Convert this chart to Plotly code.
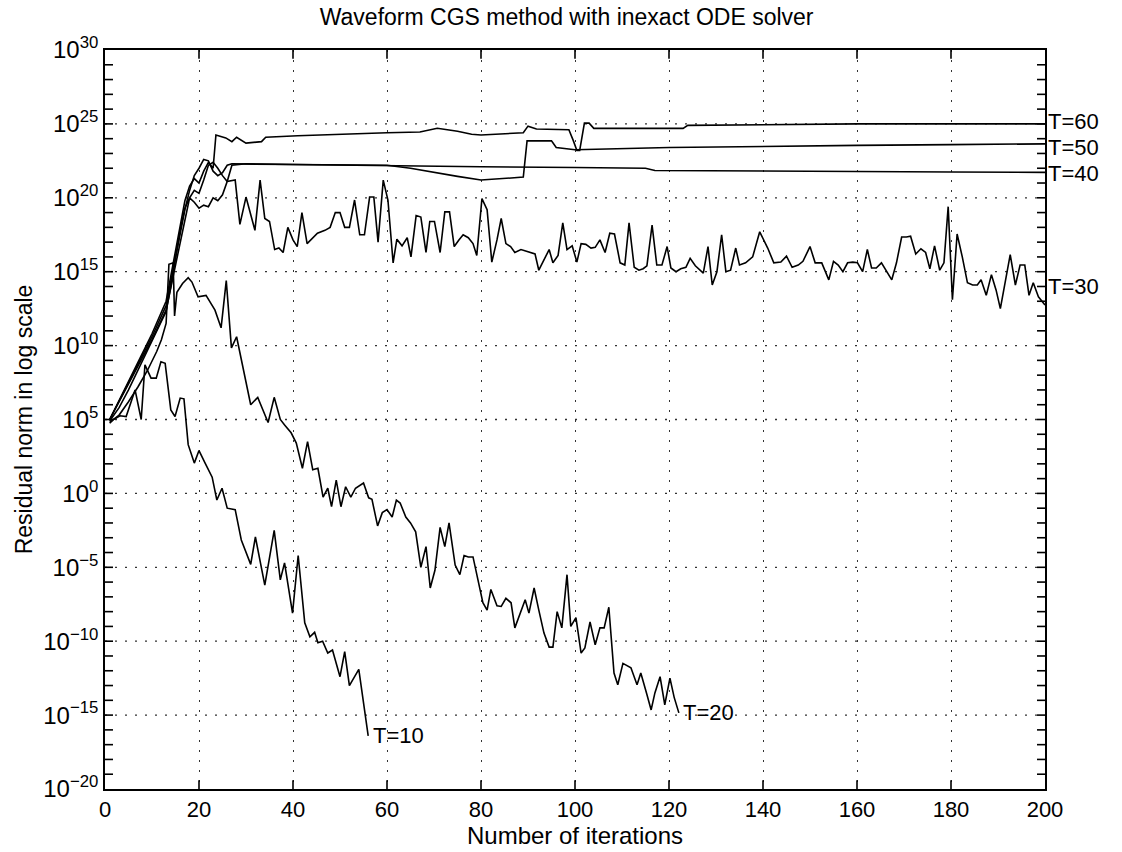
import plotly.graph_objects as go

# ---- data: iteration number and log10(residual norm) ----
t10_x = [1, 1.8, 3.2, 4.5, 6.4, 7.7, 8.5, 9.8, 10.9, 11.9, 12.8, 14, 14.9, 16, 16.8, 17.7, 19, 20, 21.3,
         22.8, 23.8, 24.9, 26, 27.7, 29, 31, 32, 34, 36, 37.3, 38.2, 39.9, 41.1, 42.5, 43.6, 44.6, 45.3,
         46.3, 47.4, 48.4, 50, 51, 52, 54, 56]
t10_y = [4.75, 5.0, 5.25, 5.2, 7.0, 5.0, 8.7, 7.8, 7.8, 8.9, 8.8, 5.65, 5.2, 6.45, 6.4, 3.3, 2.05, 2.9, 2.05,
         1.1, -0.45, 0.35, -1.0, -1.1, -3.15, -4.8, -2.95, -6.2, -2.5, -5.85, -4.7, -8.1, -4.2, -8.75, -9.7,
         -9.4, -10.1, -10.0, -10.8, -10.6, -12.4, -10.7, -13.0, -11.9, -16.4]

t20_x = [1, 3, 5, 7, 9, 11, 12, 13, 13.6, 14.5, 14.8, 15.3, 16.5, 17.7, 18.5, 19.8, 21.5, 23.4, 24.7, 25.8,
         26.9, 28, 29.5, 31, 32.5, 34.7, 36, 37.3, 38.3, 39.6, 40.7, 42, 43.1, 44.2, 45.3, 46.4, 47.4, 48.2,
         49.2, 50.2, 51.2, 52.3, 53.3, 55, 56.1, 56.8, 58, 59, 60, 61.1, 62, 62.8, 64, 65, 66.1, 67.2, 68.3,
         69.2, 70.2, 71.3, 72.3, 73.2, 74.5, 75.5, 76.4, 77.3, 78.3, 79.4, 80.4, 81.3, 82.1, 83.4, 84.3, 85.3,
         86.4, 87.2, 88.3, 89.4, 90.2, 91.3, 92.3, 93.4, 94.5, 95.3, 96.2, 97.2, 98.3, 99.1, 100.2, 101.3,
         102.1, 103.2, 104.3, 105.3, 106.2, 107.2, 108.3, 109.1, 110.2, 111.9, 113.2, 114, 115.3, 116.2, 117,
         118.1, 119.1, 120.2, 121.1, 122.1]
t20_y = [4.8, 5.3, 6.2, 7.2, 8.3, 9.6, 10.4, 11.5, 15.5, 15.6, 12.0, 13.6, 14.2, 14.6, 14.3, 13.3, 13.4, 12.4,
         11.2, 14.4, 9.85, 10.6, 8.3, 6.0, 6.5, 4.8, 6.5, 5.0, 4.6, 4.1, 3.4, 1.7, 3.5, 1.6, 1.7, -0.25, 0.35,
         -0.9, 0.9, -0.9, 0.45, -0.25, 0.35, 0.7, -0.3, -0.4, -2.2, -1.3, -1.1, -1.6, -0.45, -0.65, -1.6, -2.0,
         -2.6, -5.0, -3.6, -6.4, -5.2, -2.3, -3.6, -2.0, -4.85, -5.5, -4.2, -4.3, -4.3, -6.0, -7.4, -7.9, -6.5,
         -7.6, -7.65, -7.1, -7.4, -9.1, -8.1, -7.2, -8.1, -6.4, -7.9, -9.45, -10.4, -10.4, -8.0, -9.1, -5.5,
         -9.0, -8.4, -10.8, -10.45, -8.7, -10.25, -9.1, -9.1, -7.7, -12.15, -12.95, -11.5, -11.8, -12.95,
         -12.15, -13.6, -14.65, -13.5, -12.4, -14.3, -12.5, -13.8, -14.85]

t30_x = [1, 3, 5, 7, 9, 11, 12, 13, 14, 15, 16, 17, 18, 19, 20, 21, 22, 23, 24, 25, 26, 27.7, 28.7, 30, 31.9,
         33, 34, 35, 36.1, 37, 37.9, 38.9, 40, 40.9, 41.9, 43, 44.3, 45.2, 46.8, 47.9, 49, 50, 51, 52, 53.1,
         54.2, 55.2, 56.3, 57.2, 58.1, 59.2, 60.2, 61.3, 62.1, 63.2, 64.3, 65.1, 66.2, 67.2, 68.3, 69.1, 70.1,
         71.3, 72.3, 73.3, 74.3, 75.3, 76.2, 77.3, 78.3, 79.1, 80.2, 81.3, 82.3, 83.4, 84.3, 85.3, 86.3, 87.2,
         88.5, 89.5, 90.5, 91.5, 92.3, 93.4, 94.5, 95.3, 96.4, 97.4, 98.3, 99.4, 100.4, 101.3, 102.3, 103.4,
         104.3, 105.3, 106.4, 107.4, 108.4, 109.6, 110.6, 111.5, 112.6, 113.6, 114.5, 115.3, 116.4, 117.4,
         118.5, 119.6, 120.4, 121.5, 122.5, 123.6, 124.5, 125.6, 127.3, 128.3, 129.2, 130.2, 131.2, 132.1,
         133.1, 134.2, 135.0, 136.3, 137.8, 139.3, 141.0, 142.3, 143.8, 145.0, 146.2, 147.5, 148.5, 150.0,
         151.1, 152.5, 154.0, 155.0, 156.0, 157.0, 158.0, 159.1, 160.1, 161.2, 162.2, 163.1, 164.1, 165.2,
         166.3, 167.4, 168.4, 169.5, 170.5, 171.4, 172.5, 173.6, 174.6, 175.5, 176.5, 177.6, 178.5, 179.4,
         180.3, 181.3, 182.4, 183.5, 184.6, 185.6, 186.4, 187.5, 188.6, 189.6, 190.5, 191.8, 192.6, 193.7,
         194.7, 195.7, 196.6, 197.5, 198.6, 200]
t30_y = [4.9, 5.8, 7.0, 8.3, 9.6, 10.9, 11.6, 12.3, 14.0, 15.9, 17.8, 19.3, 20.0, 19.7, 19.3, 19.5, 19.4, 20.0,
         19.8, 20.2, 21.1, 21.2, 18.2, 20.05, 17.8, 21.2, 18.6, 18.4, 16.5, 16.6, 16.3, 18.0, 17.15, 16.7, 19.0,
         16.9, 17.35, 17.6, 17.8, 18.0, 19.0, 19.0, 18.0, 18.0, 19.85, 17.5, 17.5, 20.05, 20.05, 17.0, 21.2,
         19.85, 15.6, 17.2, 16.75, 17.3, 16.0, 18.8, 18.7, 16.3, 18.4, 18.4, 16.3, 19.05, 19.05, 16.7, 17.15,
         17.5, 17.3, 16.9, 16.1, 19.95, 19.2, 15.65, 17.15, 18.6, 16.9, 16.7, 16.3, 16.5, 16.4, 16.3, 16.2,
         15.1, 15.8, 16.5, 15.6, 16.1, 18.3, 16.5, 16.75, 15.65, 16.9, 16.85, 16.6, 16.65, 17.15, 16.3, 17.6,
         17.55, 15.6, 15.45, 18.3, 15.3, 15.1, 15.2, 15.4, 18.15, 15.45, 15.45, 16.7, 15.25, 15.0, 15.2, 15.3,
         15.9, 15.4, 14.9, 16.7, 14.1, 15.0, 17.5, 15.0, 15.1, 16.6, 15.45, 15.6, 16.0, 17.7, 16.6, 15.6, 15.65,
         16.05, 15.3, 15.45, 15.7, 16.7, 15.6, 15.6, 14.45, 15.7, 15.45, 15.0, 15.6, 15.65, 15.6, 15.0, 16.5,
         15.25, 15.25, 15.6, 15.0, 14.45, 15.6, 17.35, 17.35, 17.4, 16.2, 16.55, 16.3, 15.2, 16.75, 15.1, 15.6,
         19.4, 13.1, 17.55, 16.0, 14.25, 14.1, 14.1, 14.45, 13.4, 14.8, 13.75, 12.5, 14.9, 16.15, 14.1, 15.45,
         15.45, 13.4, 14.25, 13.3, 12.75]

t40_x = [1, 5, 10, 13, 15, 17, 18, 19, 20, 21, 22, 23, 24, 25, 26, 27, 30, 40, 60, 80, 100, 115, 117, 140,
         160, 180, 200]
t40_y = [5.0, 7.4, 10.4, 12.4, 15.5, 18.5, 20.0, 20.5, 20.3, 21.2, 22.2, 22.4, 22.0, 21.5, 21.1, 22.2, 22.3,
         22.25, 22.15, 22.1, 22.05, 22.0, 21.85, 21.8, 21.78, 21.75, 21.72]

t50_x = [1, 5, 10, 13, 15, 17, 18, 19, 20, 21, 22, 23, 24, 25, 26, 27, 40, 60, 65, 70, 75, 80, 85, 89, 89.8,
         95, 96, 100, 120, 140, 160, 180, 200]
t50_y = [5.0, 7.5, 10.6, 12.7, 16.0, 19.2, 20.5, 21.5, 22.0, 22.6, 22.5, 21.8, 21.5, 21.7, 22.2, 22.3, 22.25,
         22.2, 22.0, 21.7, 21.45, 21.2, 21.3, 21.4, 23.85, 23.85, 23.4, 23.25, 23.4, 23.5, 23.55, 23.6, 23.65]

t60_x = [1, 5, 10, 13, 15, 17, 18, 19, 20, 21, 22, 23, 23.6, 25.7, 27, 28, 30, 33.3, 34.2, 41, 60, 67, 70.7,
         75, 78, 80, 89, 90, 91.8, 98.7, 99.6, 100.4, 101, 102, 103, 104, 108, 118.6, 123, 124, 140, 160, 180,
         200]
t60_y = [5.0, 7.6, 10.8, 13.0, 16.5, 19.8, 20.8, 21.3, 21.0, 21.8, 22.4, 22.0, 24.25, 24.05, 23.8, 24.1, 23.7,
         23.8, 24.1, 24.2, 24.4, 24.45, 24.7, 24.5, 24.3, 24.25, 24.4, 24.85, 24.65, 24.6, 23.9, 23.2, 23.2,
         25.05, 25.05, 24.7, 24.7, 24.7, 24.7, 24.9, 24.95, 25.0, 25.0, 25.0]

series = [("T=10", t10_x, t10_y), ("T=20", t20_x, t20_y), ("T=30", t30_x, t30_y),
          ("T=40", t40_x, t40_y), ("T=50", t50_x, t50_y), ("T=60", t60_x, t60_y)]

# label anchors (x, log10 y, vertical pixel nudge)
label_pos = {"T=10": (56.3, -16.35, 0), "T=20": (122.4, -14.85, 0), "T=30": (200, 14.0, 0),
             "T=40": (200, 21.7, -1), "T=50": (200, 23.65, -4), "T=60": (200, 24.85, 5)}

# y-axis ticks: one per decade, labelled 10^n every 5 decades (grid there too)
y_decades = list(range(-20, 31))
y_major = [-20, -15, -10, -5, 0, 5, 10, 15, 20, 25, 30]
x_ticks = [0, 20, 40, 60, 80, 100, 120, 140, 160, 180, 200]

title_text = "Waveform CGS method with inexact ODE solver"
x_title = "Number of iterations"
y_title = "Residual norm in log scale"

font_family = "Liberation Sans, Arial, sans-serif"
grid_color = "#333333"
grid_dash = "2px,8px"
tick_style = dict(color="black", width=1.6)

fig = go.Figure()
for name, xs, ly in series:
    fig.add_trace(go.Scatter(x=xs, y=[10 ** v for v in ly], mode="lines", name=name,
                             line=dict(color="black", width=1.6), showlegend=False))

for name, (lx, ly, nudge) in label_pos.items():
    fig.add_annotation(x=lx, y=ly, xref="x", yref="y", text=name, showarrow=False,
                       xanchor="left", yanchor="middle", xshift=1, yshift=nudge,
                       font=dict(family=font_family, size=22, color="black"))

# horizontal dotted grid at the labelled decades (interior ones only)
for e in y_major[1:-1]:
    fig.add_shape(type="line", xref="paper", x0=0, x1=1, yref="y", y0=10.0 ** e, y1=10.0 ** e,
                  layer="below", line=dict(color=grid_color, width=1.3, dash=grid_dash))

# inward tick marks on all four sides (one per decade on y, one per label on x)
for e in y_decades[1:-1]:
    fig.add_shape(type="line", xref="paper", x0=0, x1=0.0085, yref="y", y0=10.0 ** e, y1=10.0 ** e,
                  layer="above", line=tick_style)
    fig.add_shape(type="line", xref="paper", x0=0.9915, x1=1, yref="y", y0=10.0 ** e, y1=10.0 ** e,
                  layer="above", line=tick_style)
for v in x_ticks[1:-1]:
    fig.add_shape(type="line", xref="x", x0=v, x1=v, yref="paper", y0=0, y1=0.012,
                  layer="above", line=tick_style)
    fig.add_shape(type="line", xref="x", x0=v, x1=v, yref="paper", y0=0.988, y1=1,
                  layer="above", line=tick_style)

fig.update_layout(
    width=1122, height=852,
    margin=dict(l=105, r=77, t=50, b=63),
    paper_bgcolor="white", plot_bgcolor="white",
    title=dict(text=title_text, x=0.505, xanchor="center", y=0.99, yanchor="top",
               font=dict(family=font_family, size=23, color="black")),
    font=dict(family=font_family, color="black"),
)
fig.update_xaxes(
    range=[0, 200], tickmode="array", tickvals=x_ticks, ticktext=[str(v) for v in x_ticks],
    showline=True, linecolor="black", linewidth=1.6, mirror=True, ticks="",
    showgrid=True, gridcolor=grid_color, gridwidth=1.3, griddash=grid_dash,
    zeroline=False,
    tickfont=dict(size=22, family=font_family),
    title=dict(text=x_title, font=dict(size=24, family=font_family), standoff=2),
)
fig.update_yaxes(
    type="log", range=[-20, 30], tickmode="array",
    tickvals=[10.0 ** e for e in y_major],
    ticktext=["10<sup>%s</sup>" % str(e).replace("-", "\u2212") for e in y_major],
    showline=True, linecolor="black", linewidth=1.6, mirror=True, ticks="",
    showgrid=False, zeroline=False,
    tickfont=dict(size=24, family=font_family),
    title=dict(text=y_title, font=dict(size=23, family=font_family), standoff=4),
)
fig.write_html("out.html")
